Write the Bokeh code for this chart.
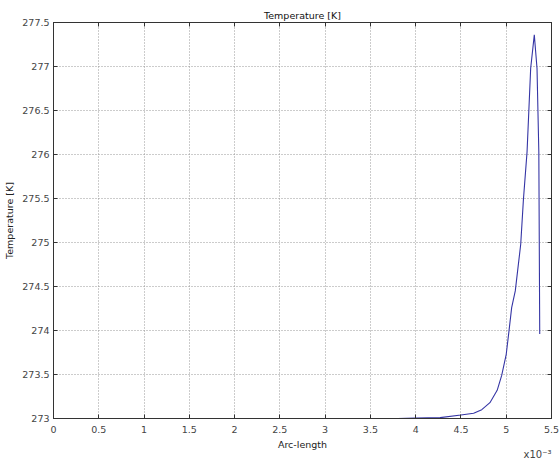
from bokeh.plotting import figure
from bokeh.models import FixedTicker, LinearAxis, Range1d, Title
from bokeh.embed import file_html
from bokeh.resources import INLINE

# Arc-length (x10^-3) and temperature [K]
arc_length = [3.5, 3.8, 4.0, 4.27, 4.5, 4.64, 4.73, 4.82, 4.90, 4.95, 5.0, 5.03, 5.06,
              5.10, 5.16, 5.19, 5.23, 5.27, 5.31, 5.34, 5.36, 5.37]
temperature = [273.0, 273.0, 273.005, 273.01, 273.04, 273.06, 273.10, 273.18, 273.32,
               273.49, 273.73, 273.99, 274.26, 274.45, 274.98, 275.49, 276.03, 276.98,
               277.36, 276.98, 276.03, 273.96]

x_ticks = [0, 0.5, 1, 1.5, 2, 2.5, 3, 3.5, 4, 4.5, 5, 5.5]
y_ticks = [273, 273.5, 274, 274.5, 275, 275.5, 276, 276.5, 277, 277.5]

FONT = "DejaVu Sans"
AX = "#333333"

p = figure(width=560, height=461, output_backend="svg", toolbar_location=None,
           x_range=Range1d(0, 5.5), y_range=Range1d(273, 277.5),
           min_border_left=53, min_border_right=9, min_border_top=22, min_border_bottom=43)

p.title.text = "Temperature [K]"
p.title.align = "center"
p.title.text_font = FONT
p.title.text_font_size = "9.5px"
p.title.text_font_style = "normal"
p.title.text_color = "#111111"
p.title.standoff = 3
p.title.offset = 0

p.line(arc_length, temperature, line_color="#3535a5", line_width=1.1)

for ax in (p.xaxis[0], p.yaxis[0]):
    ax.axis_line_color = AX
    ax.major_tick_line_color = AX
    ax.major_tick_in = 4
    ax.major_tick_out = 0
    ax.minor_tick_line_color = None
    ax.major_label_text_font = FONT
    ax.major_label_text_font_size = "9.5px"
    ax.major_label_text_color = "#444444"
    ax.axis_label_text_font = FONT
    ax.axis_label_text_font_size = "9.5px"
    ax.axis_label_text_font_style = "normal"
    ax.axis_label_text_color = "#222222"

p.xaxis.ticker = FixedTicker(ticks=x_ticks)
p.yaxis.ticker = FixedTicker(ticks=y_ticks)
p.xaxis.axis_label = "Arc-length"
p.yaxis.axis_label = "Temperature [K]"
p.xaxis.major_label_standoff = 7
p.yaxis.major_label_standoff = 4
p.xaxis.axis_label_standoff = 3
p.yaxis.axis_label_standoff = 4

# mirrored ticks on top and right (no labels)
for loc, ticks in (("right", y_ticks), ("above", x_ticks)):
    a = LinearAxis(ticker=FixedTicker(ticks=ticks),
                   major_label_text_color=None, major_tick_in=4, major_tick_out=0,
                   minor_tick_line_color=None, axis_line_color=AX,
                   major_tick_line_color=AX, major_label_standoff=0)
    p.add_layout(a, loc)

p.grid.grid_line_color = "#999999"
p.grid.grid_line_dash = "1 2"
p.grid.grid_line_width = 1
p.outline_line_color = AX

# axis multiplier note, bottom right
p.add_layout(Title(text="x10\u207b\u00b3", align="right", text_font=FONT,
                   text_font_size="10px", text_font_style="normal",
                   text_color="#444444", standoff=-12, offset=0), "below")

open("out.html", "w").write(file_html(p, INLINE))
